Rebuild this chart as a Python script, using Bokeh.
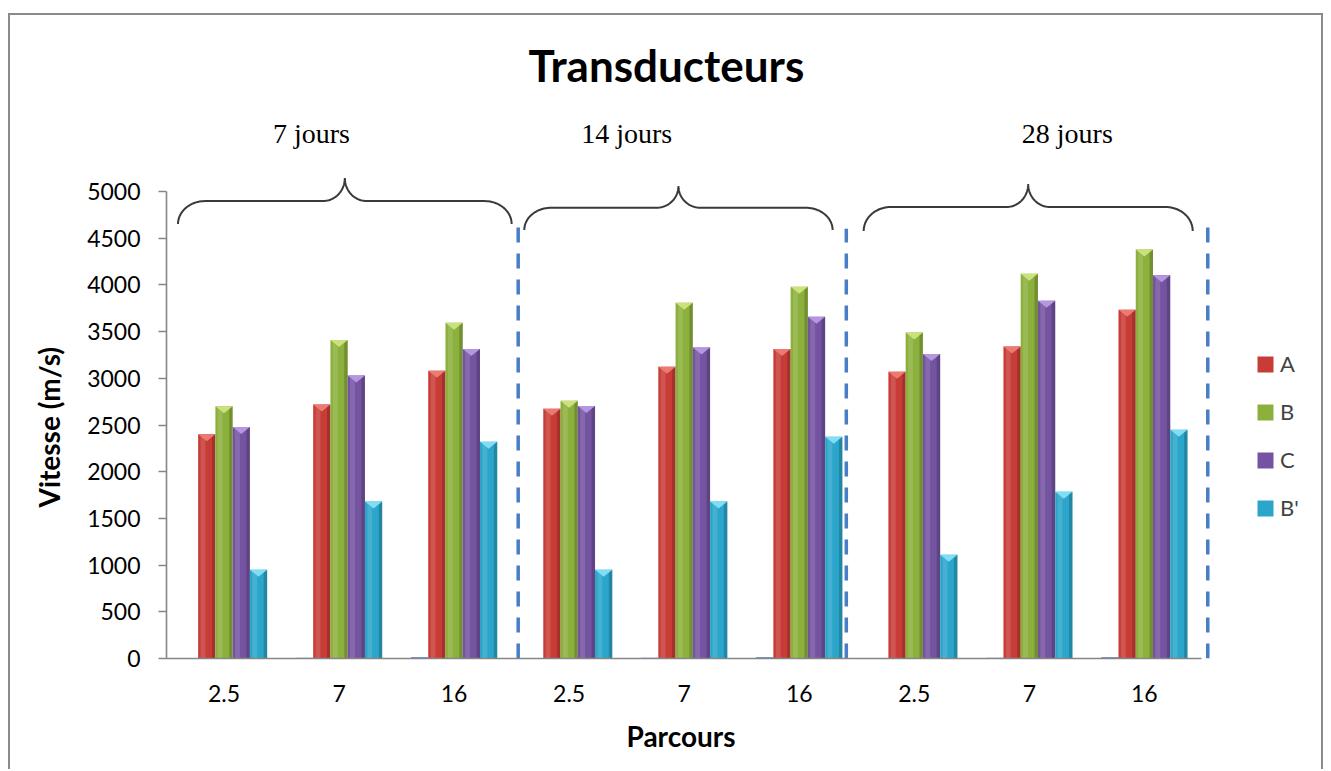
import numpy as np
from bokeh.plotting import figure
from bokeh.models import (ColumnDataSource, FixedTicker, Legend, LegendItem,
                          Range1d, Title)
from bokeh.core.properties import value
from bokeh.embed import file_html
from bokeh.resources import INLINE

# ---------------- data ----------------
parcours_labels = ["2.5", "7", "16", "2.5", "7", "16", "2.5", "7", "16"]
parcours_vals = [2.5, 7, 16, 2.5, 7, 16, 2.5, 7, 16]
age_groups = ["7 jours", "14 jours", "28 jours"]
series_names = ["A", "B", "C", "B'"]
vals_A = [2400, 2720, 3080, 2675, 3125, 3315, 3070, 3340, 3735]
vals_B = [2700, 3410, 3595, 2760, 3810, 3980, 3490, 4120, 4380]
vals_C = [2480, 3030, 3315, 2705, 3330, 3660, 3260, 3830, 4105]
vals_Bp = [950, 1680, 2320, 950, 1680, 2375, 1110, 1785, 2450]
y_ticks = [0, 500, 1000, 1500, 2000, 2500, 3000, 3500, 4000, 4500, 5000]

# ---------------- styling ----------------
base_colors = ["#C73C37", "#8CB03C", "#7453A1", "#2BA5C9"]
top_colors = ["#EC7A72", "#CBE27C", "#B596E0", "#7FDDF4"]
tiny_color = "#6E9BD1"
bar_w = 0.15
offsets = [-0.15, 0.0, 0.15, 0.30]
tiny_offset = -0.30

W, H = 1315, 756
p = figure(width=W, height=H, output_backend="svg", toolbar_location=None,
           x_range=Range1d(0, 9.97), y_range=Range1d(0, 5975),
           min_border_left=156, min_border_right=12,
           min_border_top=85, min_border_bottom=113)
p.styles = {"margin-left": "8px", "margin-top": "13px",
            "border-left": "2px solid #8A8A8A",
            "border-top": "2px solid #8A8A8A",
            "border-right": "2px solid #8A8A8A"}
p.title.text = "Transducteurs"
p.title.text_font = "Lato"
p.title.text_font_size = "44px"
p.title.text_font_style = "bold"
p.title.text_color = "black"
p.title.align = "left"
p.title.offset = 362
p.title.standoff = 20
p.grid.visible = False
p.outline_line_color = None
p.background_fill_color = "white"
p.border_fill_color = "white"

xc = np.arange(len(parcours_vals)) + 0.5

# tiny series (parcours values)
p.vbar(x=xc + tiny_offset, top=parcours_vals, width=bar_w, bottom=0,
       fill_color=tiny_color, line_color=None)

px_per_unit = 558 / 5975.0
tri_depth = 7 / px_per_unit

renderers = []
for k, vals in enumerate([vals_A, vals_B, vals_C, vals_Bp]):
    x = xc + offsets[k]
    v = np.array(vals, dtype=float)
    src = ColumnDataSource(dict(x=x, top=v))
    r = p.vbar(x="x", top="top", width=bar_w, bottom=0, source=src,
               fill_color=base_colors[k], line_color=None)
    renderers.append(r)
    p.vbar(x=x - bar_w * 0.22, top=v, width=bar_w * 0.28, bottom=0,
           fill_color="white", fill_alpha=0.13, line_color=None)
    p.vbar(x=x + bar_w * 0.40, top=v, width=bar_w * 0.20, bottom=0,
           fill_color="black", fill_alpha=0.18, line_color=None)
    xs = [[xi - bar_w / 2, xi + bar_w / 2, xi] for xi in x]
    ys = [[t, t, t - tri_depth] for t in v]
    p.patches(xs=xs, ys=ys, fill_color=top_colors[k], line_color=None)

# dashed separators (annotation positions)
sep_x = [3.057, 5.909, 9.051]
sep_top = [4614, 4603, 4689]
p.segment(x0=sep_x, y0=[0, 0, 0], x1=sep_x, y1=sep_top,
          line_color="#4A7EC4", line_width=3.5, line_dash="15 11")

# curly braces above groups (annotation geometry)
brace_params = [
    (0.10, 3.00, 4652, 4898, 5144),
    (3.11, 5.79, 4588, 4827, 5059),
    (6.06, 8.92, 4577, 4834, 5080),
]


def brace_path(xl, xr, y_end, y_h, y_peak, r1=0.235, r2=0.19, n=24):
    xm = (xl + xr) / 2
    t1 = np.linspace(np.pi, np.pi / 2, n)
    x1 = xl + r1 + r1 * np.cos(t1)
    y1 = y_end + (y_h - y_end) * np.sin(t1)
    t2 = np.linspace(-np.pi / 2, 0, n)
    x2 = xm - r2 + r2 * np.cos(t2)
    y2 = y_peak + (y_peak - y_h) * np.sin(t2)
    lx = np.concatenate([x1, x2])
    ly = np.concatenate([y1, y2])
    rx = (2 * xm - lx)[::-1]
    ry = ly[::-1]
    return list(np.concatenate([lx, rx])), list(np.concatenate([ly, ry]))


bx, by = [], []
for prm in brace_params:
    a, b = brace_path(*prm)
    bx.append(a)
    by.append(b)
p.multi_line(xs=bx, ys=by, line_color="#3A3A3A", line_width=2)

# group labels
grp_x = [1.26, 4.00, 7.83]
grp_y = [5622, 5622, 5622]
p.text(x=grp_x, y=grp_y, text=age_groups, text_font=value("Liberation Serif"),
       text_font_size="28px", text_align="center", text_baseline="middle",
       text_color="black")

# axes
p.xaxis.ticker = FixedTicker(ticks=list(xc))
p.xaxis.major_label_overrides = {float(x): lab for x, lab in zip(xc, parcours_labels)}
p.xaxis.bounds = (0, 9)
p.yaxis.bounds = (0, 5000)
p.yaxis.ticker = FixedTicker(ticks=y_ticks)
for ax in (p.xaxis, p.yaxis):
    ax.axis_line_color = "#868686"
    ax.axis_line_width = 1.6
    ax.major_tick_line_color = "#868686"
    ax.major_tick_line_width = 1.6
    ax.minor_tick_out = 0
    ax.minor_tick_in = 0
    ax.major_tick_in = 0
    ax.major_label_text_font = "Lato"
    ax.major_label_text_font_size = "23px"
    ax.major_label_text_color = "black"
p.xaxis.major_tick_out = 0
p.xaxis.major_label_standoff = 26
p.yaxis.major_tick_out = 8
p.yaxis.major_label_standoff = 18

# axis titles, positioned over the axis spans
ytitle = Title(text="Vitesse (m/s)", align="left", offset=151, standoff=37,
               text_font="Lato", text_font_size="28px", text_font_style="bold",
               text_color="black")
p.add_layout(ytitle, "left")
xtitle = Title(text="Parcours", align="left", offset=460, standoff=25,
               text_font="Lato", text_font_size="28px", text_font_style="bold",
               text_color="black")
p.add_layout(xtitle, "below")

# legend
legend = Legend(items=[LegendItem(label=n, renderers=[r]) for n, r in zip(series_names, renderers)],
                location=(1089, 137), orientation="vertical",
                glyph_width=20, glyph_height=20, label_standoff=5,
                label_text_font="Lato", label_text_font_size="22px",
                label_height=26, spacing=21, padding=0, margin=0,
                border_line_alpha=0, background_fill_alpha=0)
p.add_layout(legend)

open("out.html", "w").write(file_html(p, INLINE))
